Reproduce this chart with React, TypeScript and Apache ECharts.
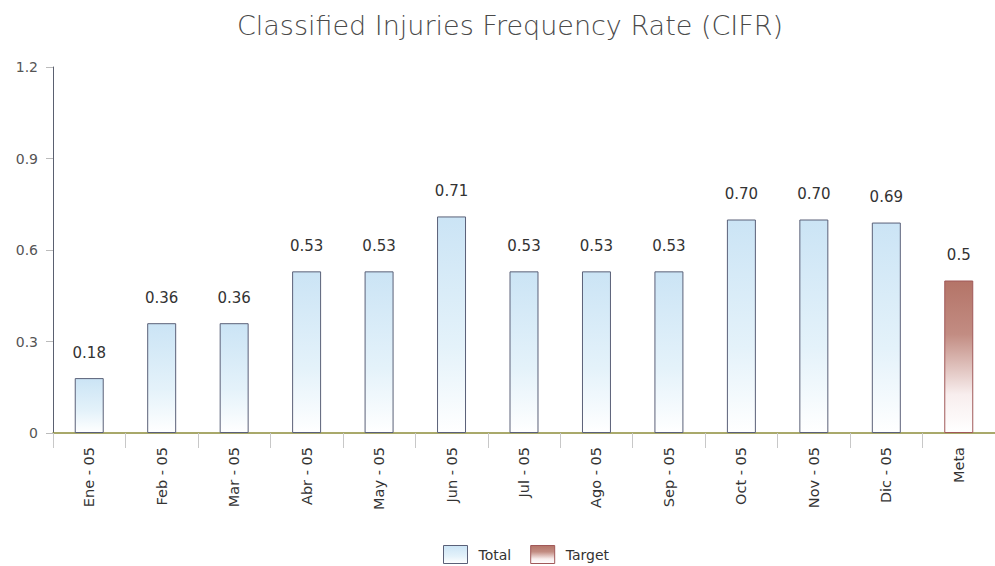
import React, { useEffect, useRef } from "react";
import * as echarts from "echarts";

const categories = ["Ene - 05", "Feb - 05", "Mar - 05", "Abr - 05", "May - 05", "Jun - 05", "Jul - 05", "Ago - 05", "Sep - 05", "Oct - 05", "Nov - 05", "Dic - 05", "Meta"];
const totalValues = [0.18, 0.36, 0.36, 0.53, 0.53, 0.71, 0.53, 0.53, 0.53, 0.70, 0.70, 0.69, null];
const targetValues = [null, null, null, null, null, null, null, null, null, null, null, null, 0.5];
const yMax = 1.2;
const yStep = 0.3;

const FONT = "DejaVu Sans";

export default function App() {
  const ref = useRef<HTMLDivElement>(null);
  useEffect(() => {
    const chart = echarts.init(ref.current!, null, { renderer: "svg" });
    const blueGrad = new echarts.graphic.LinearGradient(0, 0, 0, 1, [
      { offset: 0, color: "#cbe4f5" },
      { offset: 0.6, color: "#e4f2fa" },
      { offset: 1, color: "#ffffff" },
    ]);
    const redGrad = new echarts.graphic.LinearGradient(0, 0, 0, 1, [
      { offset: 0, color: "#b47468" },
      { offset: 0.35, color: "#c28c82" },
      { offset: 0.75, color: "#f8eeee" },
      { offset: 1, color: "#ffffff" },
    ]);
    const labelFmt = (p: any) => {
      const v = p.value;
      if (v == null) return "";
      return p.seriesName === "Target" ? String(v) : v.toFixed(2);
    };
    chart.setOption({
      animation: false,
      backgroundColor: "#ffffff",
      textStyle: { fontFamily: FONT },
      title: {
        text: "Classified Injuries Frequency Rate (CIFR)",
        left: 505,
        textAlign: "center",
        top: 7,
        textStyle: { fontFamily: FONT, fontSize: 27, fontWeight: "lighter", color: "#4a4a4a" },
      },
      legend: {
        top: 540,
        left: 438,
        icon: "rect",
        itemWidth: 24,
        itemHeight: 18,
        itemGap: 19,
        textStyle: { fontFamily: FONT, fontSize: 14, color: "#333", padding: [0, 0, 0, 6] },
        data: [
          { name: "Total", itemStyle: { color: blueGrad, borderColor: "#5a6078", borderWidth: 1 } },
          { name: "Target", itemStyle: { color: redGrad, borderColor: "#a05858", borderWidth: 1 } },
        ],
      },
      grid: { left: 53, right: 0, top: 67, bottom: 133, containLabel: false },
      xAxis: {
        type: "category",
        data: categories,
        axisLine: { lineStyle: { color: "#8c8c3a", width: 1.5 } },
        axisTick: { show: true, alignWithLabel: false, length: 15, lineStyle: { color: "#c8c8c8" } },
        axisLabel: { rotate: 90, margin: 14, fontFamily: FONT, fontSize: 14.5, color: "#333" },
      },
      yAxis: {
        type: "value",
        min: 0,
        max: yMax,
        interval: yStep,
        axisLine: { show: true, lineStyle: { color: "#5a6070", width: 1 } },
        axisTick: { show: true, length: 7, lineStyle: { color: "#bbbbbb" } },
        axisLabel: {
          margin: 15,
          fontFamily: FONT,
          fontSize: 14,
          color: "#555",
          formatter: (v: number) => (v === 0 ? "0" : v.toFixed(1)),
        },
        splitLine: { show: false },
      },
      series: [
        {
          name: "Total",
          type: "bar",
          data: totalValues,
          barWidth: "40%",
          barGap: "-100%",
          itemStyle: { color: blueGrad, borderColor: "#5a6078", borderWidth: 1 },
          label: { show: true, position: "top", distance: 18, fontFamily: FONT, fontSize: 15, color: "#333", formatter: labelFmt },
        },
        {
          name: "Target",
          type: "bar",
          data: targetValues,
          barWidth: "40%",
          barGap: "-100%",
          itemStyle: { color: redGrad, borderColor: "#a05858", borderWidth: 1 },
          label: { show: true, position: "top", distance: 18, fontFamily: FONT, fontSize: 15, color: "#333", formatter: labelFmt },
        },
      ],
    });
    return () => chart.dispose();
  }, []);
  return <div ref={ref} style={{ width: 995, height: 566, position: "absolute", left: 0, top: 0 }} />;
}
